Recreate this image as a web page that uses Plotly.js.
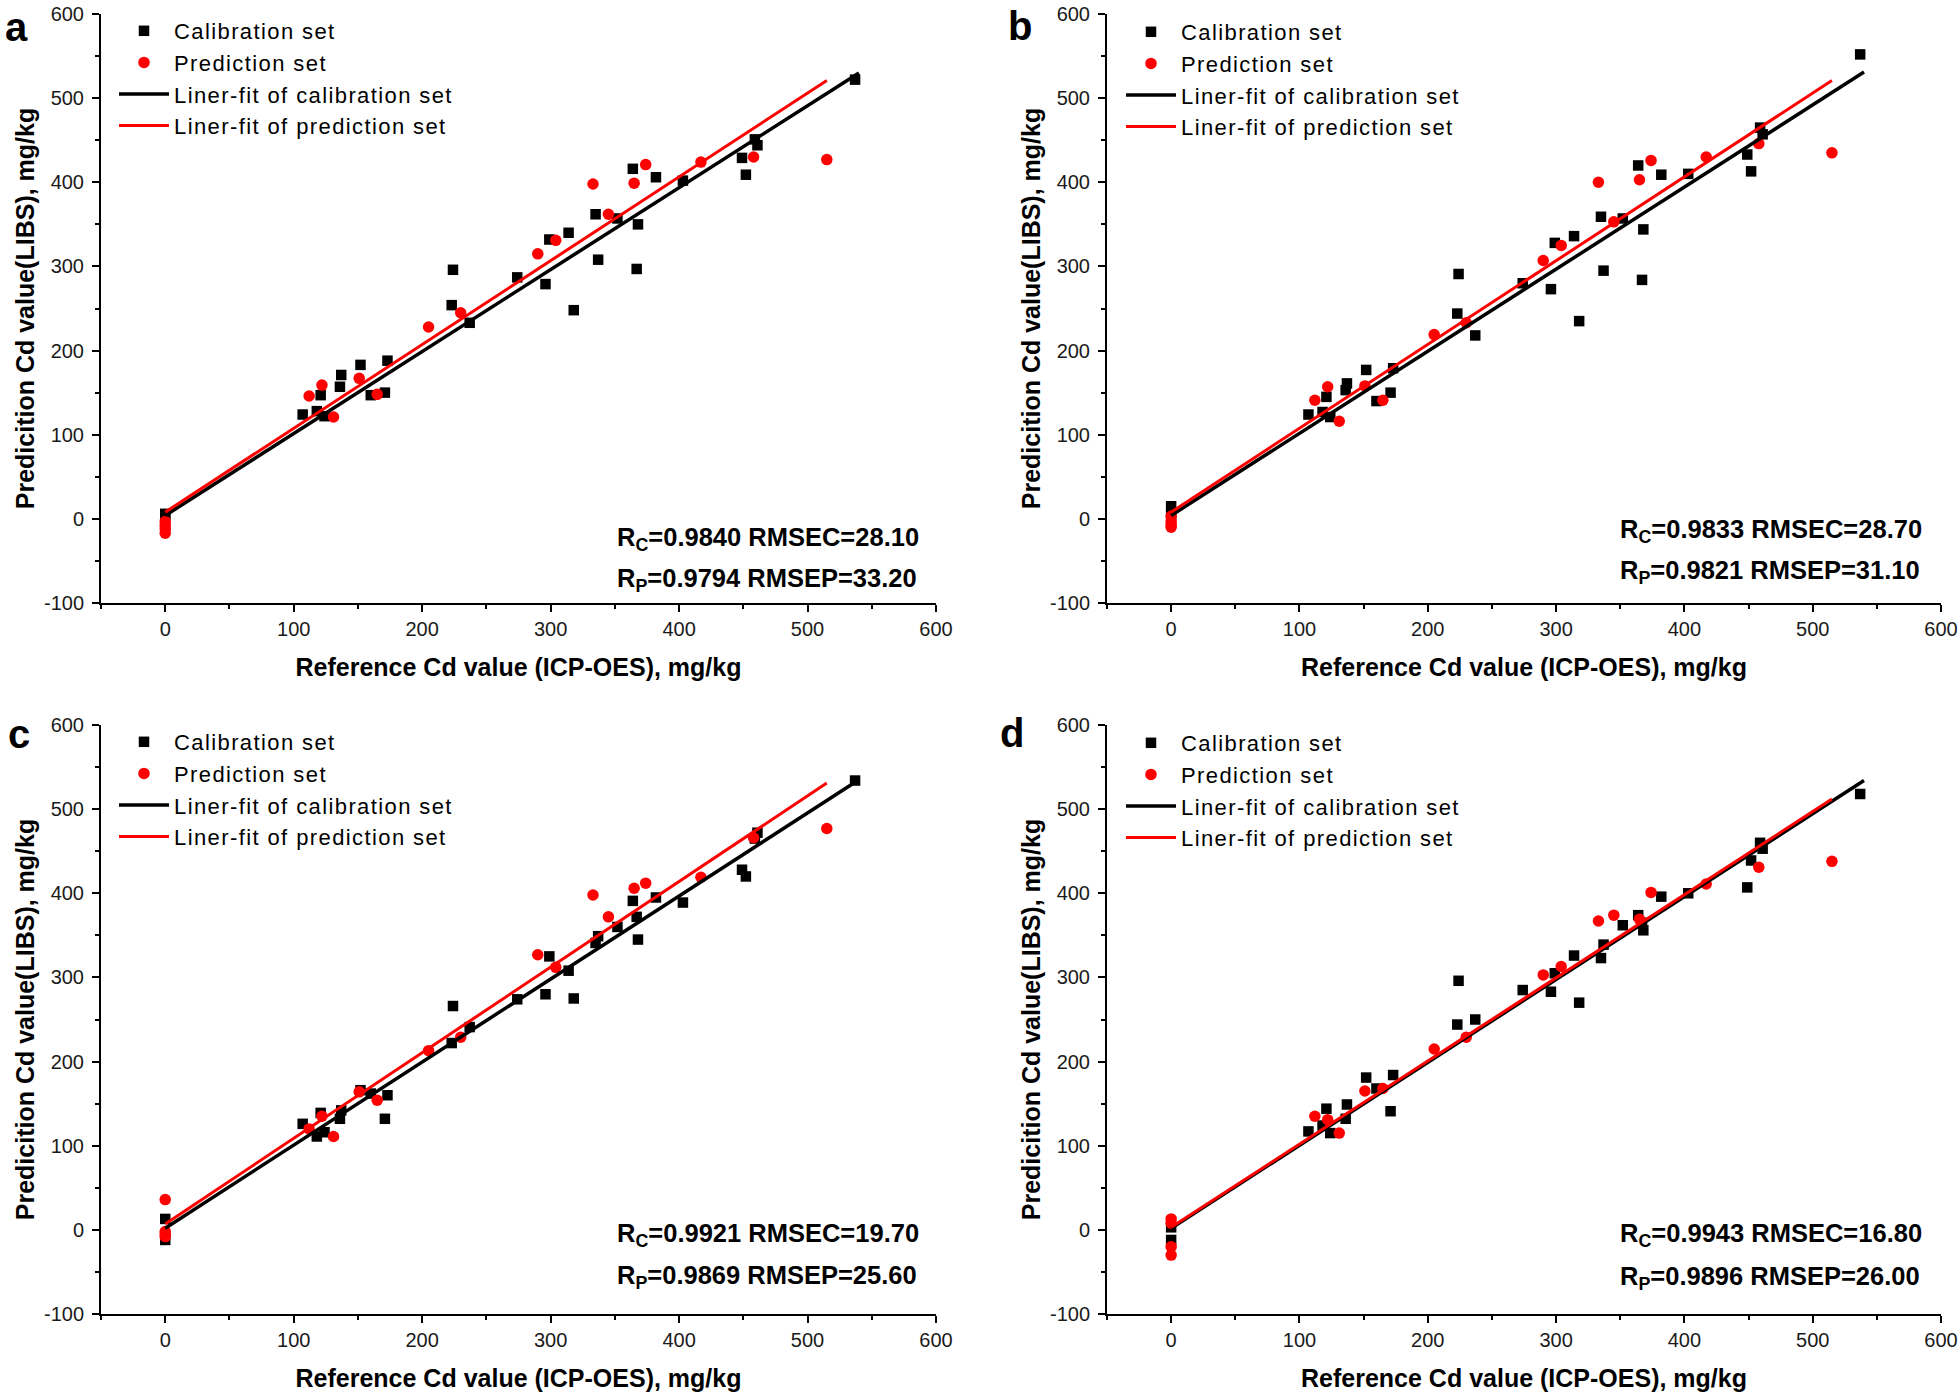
<!DOCTYPE html>
<html><head><meta charset="utf-8">
<script src="https://cdn.plot.ly/plotly-3.0.1.min.js"></script>
<style>html,body{margin:0;padding:0;background:#fff}#chart{width:1960px;height:1398px}</style>
</head><body><div id="chart"></div>
<script>
// ---- data ----
const refCal = [0, 0, 107, 118, 121, 124, 136, 137, 152, 160, 171, 173, 223, 224, 237, 274, 296, 299, 314, 318, 335, 337, 352, 364, 367, 368, 382, 403, 449, 452, 459, 461, 537];
const calA = [6, 2, 124, 128, 147, 122, 157, 171, 183, 147, 150, 188, 254, 296, 233, 287, 279, 332, 340, 248, 362, 308, 357, 416, 297, 350, 406, 402, 429, 409, 451, 444, 522];
const calB = [15, 5, 124, 127, 145, 121, 153, 161, 177, 140, 150, 179, 244, 291, 218, 280, 273, 328, 336, 235, 359, 295, 357, 420, 284, 344, 409, 410, 433, 413, 465, 457, 552];
const calC = [13, -12, 126, 111, 139, 116, 132, 142, 166, 162, 132, 160, 222, 266, 241, 274, 280, 325, 308, 275, 341, 349, 360, 391, 372, 345, 395, 389, 428, 420, 465, 472, 534];
const calD = [3, -12, 117, 124, 144, 115, 132, 149, 181, 168, 141, 184, 244, 296, 250, 285, 283, 305, 326, 270, 323, 339, 362, 374, 365, 356, 396, 400, 407, 439, 460, 453, 518];

const refPred = [0, 0, 0, 0, 112, 122, 131, 151, 165, 205, 230, 290, 304, 333, 345, 365, 374, 417, 458, 515];
const predA = [-3, -8, -12, -17, 146, 159, 121, 167, 148, 228, 245, 315, 331, 398, 362, 399, 421, 424, 430, 427];
const predB = [3, -3, -7, -10, 141, 157, 116, 158, 141, 219, 233, 307, 325, 400, 353, 403, 426, 430, 446, 435];
const predC = [36, -2, -5, -8, 120, 135, 111, 164, 154, 213, 229, 327, 312, 398, 372, 406, 412, 419, 466, 477];
const predD = [13, 8, -20, -30, 135, 131, 115, 165, 168, 215, 229, 303, 313, 367, 374, 369, 401, 411, 431, 438];

const fitCalX = [0, 540];
const fitPredX = [0, 515];
const fitCalA = [4, 530], fitPredA = [8, 521];
const fitCalB = [4, 531], fitPredB = [8, 521];
const fitCalC = [2, 535], fitPredC = [7, 531];
const fitCalD = [2, 534], fitPredD = [3, 512];

const xTickVals = [0, 100, 200, 300, 400, 500, 600];
const xTickText = ['0', '100', '200', '300', '400', '500', '600'];
const yTickVals = [-100, 0, 100, 200, 300, 400, 500, 600];
const yTickText = ['-100', '0', '100', '200', '300', '400', '500', '600'];

const panelLabels = ['a', 'b', 'c', 'd'];
const statRc = ['0.9840', '0.9833', '0.9921', '0.9943'];
const statRmsec = ['28.10', '28.70', '19.70', '16.80'];
const statRp = ['0.9794', '0.9821', '0.9869', '0.9896'];
const statRmsep = ['33.20', '31.10', '25.60', '26.00'];
const seriesNames = ['Calibration set', 'Prediction set', 'Liner-fit of calibration set', 'Liner-fit of prediction set'];
const xTitle = 'Reference Cd value (ICP-OES), mg/kg';
const yTitle = 'Predicition Cd value(LIBS), mg/kg';

// ---- layout geometry (pixels) ----
const W = 1960, H = 1398;
const FONT = 'Arial, "Liberation Sans", sans-serif';
const px = v => v / W;
const py = v => 1 - v / H;
const geo = [
  {x0: 101, x1: 936, y0: 14, y1: 603, legX: 114, legY: 10, annX: 615, ann1: 539, ann2: 580, labX: 3, labB: 42},
  {x0: 1107, x1: 1941, y0: 14, y1: 603, legX: 1121, legY: 11, annX: 1618, ann1: 531, ann2: 572, labX: 1006, labB: 41},
  {x0: 101, x1: 936, y0: 725, y1: 1314, legX: 114, legY: 721, annX: 615, ann1: 1235, ann2: 1277, labX: 6, labB: 749},
  {x0: 1107, x1: 1941, y0: 725, y1: 1314, legX: 1121, legY: 722, annX: 1618, ann1: 1235, ann2: 1278, labX: 998, labB: 748}
];
const calSets = [calA, calB, calC, calD];
const predSets = [predA, predB, predC, predD];
const fitCal = [fitCalA, fitCalB, fitCalC, fitCalD];
const fitPred = [fitPredA, fitPredB, fitPredC, fitPredD];

const traces = [];
const layout = {
  width: W, height: H, margin: {l: 0, r: 0, t: 0, b: 0},
  paper_bgcolor: '#fff', plot_bgcolor: '#fff',
  font: {family: FONT, color: '#000'},
  showlegend: true, annotations: []
};

geo.forEach((g, i) => {
  const sfx = i === 0 ? '' : String(i + 1);
  const xa = 'x' + sfx, ya = 'y' + sfx, lg = 'legend' + sfx;
  traces.push({type: 'scatter', mode: 'markers', x: refCal, y: calSets[i], xaxis: xa, yaxis: ya, legend: lg,
    name: seriesNames[0], marker: {symbol: 'square', size: 10.5, color: '#000'}});
  traces.push({type: 'scatter', mode: 'markers', x: refPred, y: predSets[i], xaxis: xa, yaxis: ya, legend: lg,
    name: seriesNames[1], marker: {symbol: 'circle', size: 11.5, color: '#ff0000'}});
  traces.push({type: 'scatter', mode: 'lines', x: fitCalX, y: fitCal[i], xaxis: xa, yaxis: ya, legend: lg,
    name: seriesNames[2], line: {color: '#000', width: 3.5}});
  traces.push({type: 'scatter', mode: 'lines', x: fitPredX, y: fitPred[i], xaxis: xa, yaxis: ya, legend: lg,
    name: seriesNames[3], line: {color: '#ff0000', width: 3}});

  const axCommon = {
    showline: true, linecolor: '#000', linewidth: 2, mirror: false,
    showgrid: false, zeroline: false, ticks: 'outside', ticklen: 7, tickwidth: 2, tickcolor: '#000',
    tickfont: {size: 20, color: '#1a1a1a', family: FONT}, automargin: false, tickmode: 'array',
    minor: {dtick: 50, tick0: 0, ticks: 'outside', ticklen: 4, tickwidth: 2, tickcolor: '#000', showgrid: false}
  };
  layout['xaxis' + sfx] = Object.assign({}, axCommon, {
    domain: [px(g.x0), px(g.x1)], range: [-50, 600], tickvals: xTickVals, ticktext: xTickText, anchor: ya,
    title: {text: xTitle, font: {size: 25, weight: 'bold', family: FONT}, standoff: 19}
  });
  layout['yaxis' + sfx] = Object.assign({}, axCommon, {
    domain: [py(g.y1), py(g.y0)], range: [-100, 600], tickvals: yTickVals, ticktext: yTickText, anchor: xa,
    ticklabelstandoff: 4,
    title: {text: yTitle, font: {size: 25, weight: 'bold', family: FONT}, standoff: 2}
  });
  layout[lg] = {
    x: px(g.legX), y: py(g.legY), xanchor: 'left', yanchor: 'top',
    bgcolor: 'rgba(0,0,0,0)', borderwidth: 0, itemwidth: 50, tracegroupgap: 0,
    font: {size: 22, family: FONT, color: '#000'}, traceorder: 'normal'
  };
  layout.annotations.push({
    xref: 'paper', yref: 'paper', x: px(g.annX), y: py(g.ann1), xanchor: 'left', yanchor: 'middle',
    showarrow: false, font: {size: 25.5, weight: 'bold', family: FONT},
    text: 'R<sub>C</sub>=' + statRc[i] + ' RMSEC=' + statRmsec[i]
  });
  layout.annotations.push({
    xref: 'paper', yref: 'paper', x: px(g.annX), y: py(g.ann2), xanchor: 'left', yanchor: 'middle',
    showarrow: false, font: {size: 25.5, weight: 'bold', family: FONT},
    text: 'R<sub>P</sub>=' + statRp[i] + ' RMSEP=' + statRmsep[i]
  });
  layout.annotations.push({
    xref: 'paper', yref: 'paper', x: px(g.labX), y: py(g.labB + 9), xanchor: 'left', yanchor: 'bottom',
    showarrow: false, font: {size: 40, weight: 'bold', family: FONT}, text: panelLabels[i]
  });
});

Plotly.newPlot('chart', traces, layout, {displayModeBar: false, staticPlot: true}).then(gd => {
  // widen legend lettering slightly to match the reference and keep it unclipped
  gd.querySelectorAll('g[class^="legend"] text, text.legendtext').forEach(t => {
    t.style.letterSpacing = '1.4px';
  });
  gd.querySelectorAll('g[class^="legend"] [clip-path], g[class^="legend"][clip-path]').forEach(e => {
    e.removeAttribute('clip-path');
  });
});
</script>
</body></html>
